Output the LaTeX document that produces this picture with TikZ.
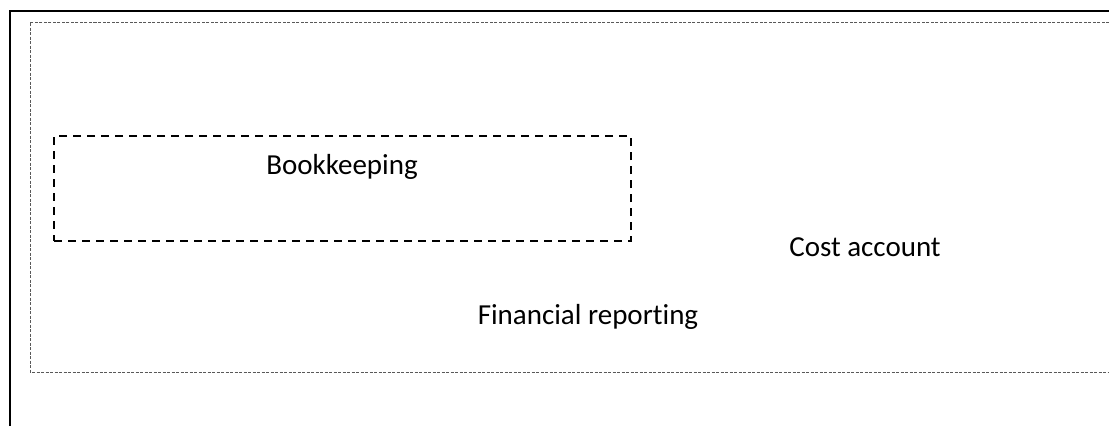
\documentclass[tikz,border=0pt]{standalone}
\usepackage{fontspec}
\setmainfont{Carlito}[Ligatures=NoCommon]
\usetikzlibrary{positioning}

\begin{document}
\begin{tikzpicture}[x=1pt, y=-1pt,
  every node/.style={font=\fontsize{29}{34}\selectfont, inner sep=0pt},
  outerframe/.style={line width=1.8pt, black},
  innerframe/.style={line width=0.9pt, black!65, dash pattern=on 3pt off 1.5pt},
  groupbox/.style={draw, line width=1.6pt, dash pattern=on 8pt off 6pt,
    minimum width=577pt, minimum height=105pt}
]
  \useasboundingbox (0,0) rectangle (1109,426);

  % frames
  \draw[outerframe] (10,426) -- (10,11) -- (1109,11);
  \draw[innerframe] (1109,22) -- (30,22) -- (30,372) -- (1109,372);

  % dashed group
  \node[groupbox] (bookbox) at (342.5,188.5) {};
  \node (bookkeeping) at (342,167) {Bookkeeping};

  \node (cost) at (865,247) {Cost account};
  \node (reporting) at (588,317) {Financial reporting};

\end{tikzpicture}
\end{document}
